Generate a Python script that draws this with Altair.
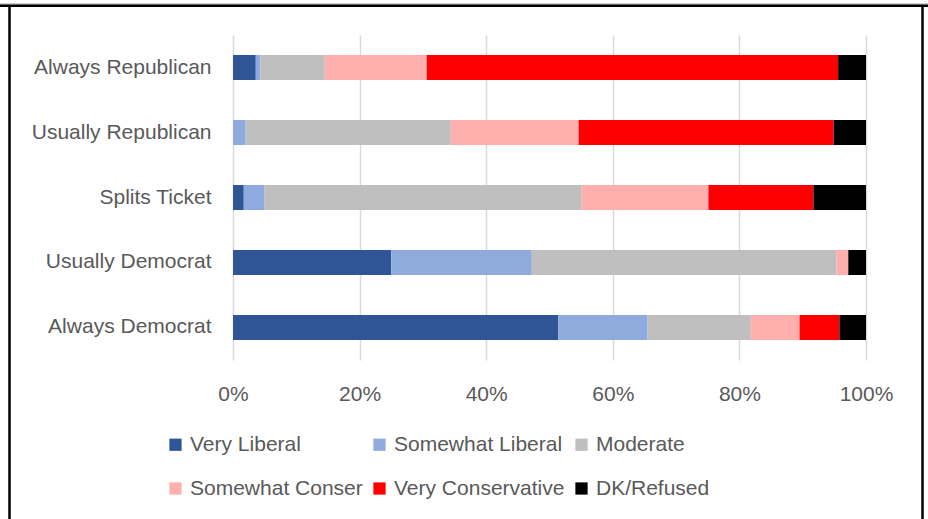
import altair as alt
import pandas as pd

groups = ["Always Republican", "Usually Republican", "Splits Ticket",
          "Usually Democrat", "Always Democrat"]
ideologies = ["Very Liberal", "Somewhat Liberal", "Moderate",
              "Somewhat Conser", "Very Conservative", "DK/Refused"]
colors = ["#2F5597", "#8FAADC", "#BFBFBF", "#FFB0AE", "#FF0000", "#000000"]

very_liberal = [3.6, 0.0, 1.7, 25.0, 51.4]
somewhat_liberal = [0.7, 2.0, 3.3, 22.2, 14.1]
moderate = [10.2, 32.4, 50.1, 48.1, 16.3]
somewhat_conser = [16.1, 20.2, 20.0, 1.9, 7.7]
very_conservative = [65.0, 40.3, 16.6, 0.0, 6.3]
dk_refused = [4.4, 5.1, 8.3, 2.8, 4.2]

series = [very_liberal, somewhat_liberal, moderate, somewhat_conser,
          very_conservative, dk_refused]
rows = []
for k, (name, vals) in enumerate(zip(ideologies, series)):
    for g, v in zip(groups, vals):
        rows.append({"group": g, "ideology": name, "value": v, "order": k})
df = pd.DataFrame(rows)

FONT = "Liberation Sans"
FS = 21
TXT = "#595959"
W, H = 633, 325
PL, PT = 233, 35

bars = alt.Chart(df).mark_bar().encode(
    y=alt.Y("group:N", sort=groups, title=None,
            scale=alt.Scale(paddingInner=0.615, paddingOuter=0.3077),
            axis=alt.Axis(domain=False, ticks=False, grid=False,
                          labelFont=FONT, labelFontSize=FS, labelColor=TXT,
                          labelPadding=22, labelLimit=300)),
    x=alt.X("value:Q", stack="normalize", title=None,
            scale=alt.Scale(domain=[0, 1], nice=False),
            axis=alt.Axis(format=".0%", values=[0, 0.2, 0.4, 0.6, 0.8, 1.0],
                          domain=False, ticks=False, grid=True,
                          gridColor="#D9D9D9", gridWidth=1.5,
                          labelFlush=False,
                          labelFont=FONT, labelFontSize=FS, labelColor=TXT,
                          labelPadding=23)),
    color=alt.Color("ideology:N", title=None,
                    scale=alt.Scale(domain=ideologies, range=colors),
                    legend=alt.Legend(orient="none", legendX=-68, legendY=399,
                                      direction="horizontal", columns=3,
                                      symbolType="square", symbolSize=150,
                                      symbolStrokeWidth=0, labelOffset=4,
                                      labelFont=FONT, labelFontSize=FS,
                                      labelColor=TXT, labelLimit=400,
                                      columnPadding=6, rowPadding=22)),
    order=alt.Order("order:Q"),
)

one = alt.Data(values=[{"a": 1}])
left = alt.Chart(one).mark_rule(color="black", strokeWidth=2.5).encode(
    x=alt.value(9.5 - PL), y=alt.value(5 - PT), y2=alt.value(519 - PT + 5))
right = alt.Chart(one).mark_rule(color="black", strokeWidth=2.5).encode(
    x=alt.value(922.5 - PL), y=alt.value(5 - PT), y2=alt.value(519 - PT + 5))
top = alt.Chart(one).mark_rule(color="black", strokeWidth=2.5).encode(
    y=alt.value(5.8 - PT), x=alt.value(-PL), x2=alt.value(928 - PL))
top_grey = alt.Chart(one).mark_rule(color="#A0A0A0", strokeWidth=1).encode(
    y=alt.value(4 - PT), x=alt.value(-PL), x2=alt.value(928 - PL))

chart = alt.layer(bars, top_grey, top, left, right).properties(
    width=W, height=H,
    autosize=alt.AutoSizeParams(type="none"),
    padding={"left": PL, "top": PT, "right": 928 - PL - W, "bottom": 519 - PT - H},
).configure(background="white").configure_view(stroke=None)

chart.save("out.html", embed_options={"renderer": "svg", "actions": False})
